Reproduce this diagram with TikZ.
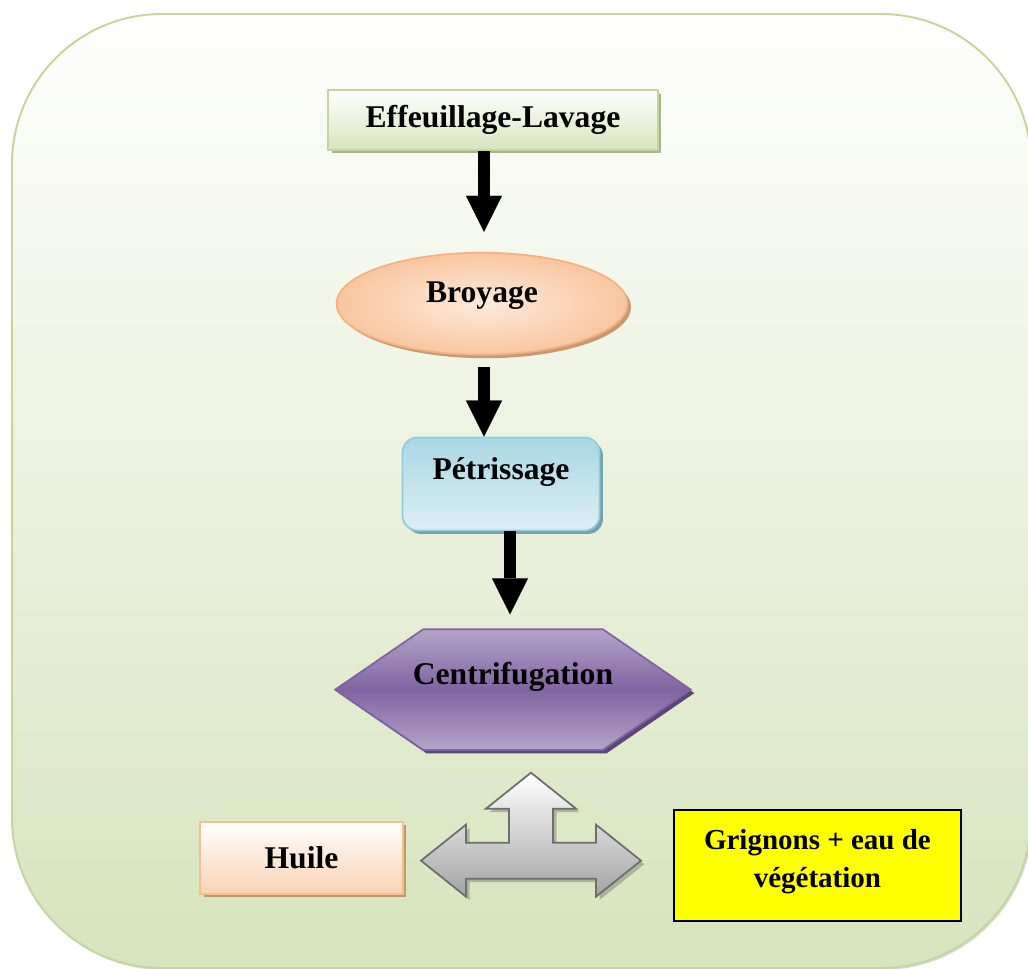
\documentclass[tikz,border=0pt]{standalone}
\usepackage{fontspec}
\setmainfont{Liberation Serif}
\usetikzlibrary{arrows.meta,positioning,calc,shapes.geometric,shadows}
\definecolor{frameline}{HTML}{C3D69B}
\definecolor{frametop}{HTML}{FEFEFD}
\definecolor{framebottom}{HTML}{D7E4BD}
\definecolor{leaf}{HTML}{D7E4BD}
\definecolor{leafline}{HTML}{C3D69B}
\definecolor{leafshadow}{HTML}{A7B48E}
\definecolor{peach}{HTML}{F9C6A0}
\definecolor{peachlight}{HTML}{FDEADC}
\definecolor{peachline}{HTML}{F4B183}
\definecolor{peachshadow}{HTML}{C99A72}
\definecolor{sky}{HTML}{A9D7E4}
\definecolor{skylight}{HTML}{DDEFF4}
\definecolor{skyline}{HTML}{93CDDD}
\definecolor{skyshadow}{HTML}{74A2AE}
\definecolor{violet}{HTML}{8064A2}
\definecolor{violetlight}{HTML}{B4A4C8}
\definecolor{violetshadow}{HTML}{5B4677}
\definecolor{oil}{HTML}{FAD3B3}
\definecolor{oilline}{HTML}{F5C08E}
\definecolor{oilshadow}{HTML}{BF9A6A}
\definecolor{steel}{HTML}{A3A3A3}
\definecolor{steelline}{HTML}{6E6E6E}
\definecolor{lemon}{HTML}{FFFF00}
\tikzset{
  hardshadow/.style={drop shadow={shadow xshift=.07cm,shadow yshift=-.07cm,fill=#1,opacity=1}},
  label18/.style={font=\fontsize{18}{22}\selectfont\bfseries,text=black,align=center},
  lift/.style={text height=0.5cm,text depth=#1},
  panel/.style={draw=frameline,line width=1.1pt,top color=frametop,bottom color=framebottom,rounded corners=3cm},
  leafbox/.style={label18,draw=leafline,line width=1pt,top color=white,bottom color=leaf,minimum width=6.6cm,minimum height=1.2cm,hardshadow=leafshadow},
  grindnode/.style={label18,ellipse,draw=peachline,line width=1pt,shading=radial,inner color=peachlight,outer color=peach,minimum width=5.82cm,minimum height=2.04cm,hardshadow=peachshadow},
  kneadbox/.style={label18,draw=skyline,line width=1pt,top color=sky,bottom color=skylight,rounded corners=0.3cm,minimum width=3.94cm,minimum height=1.86cm,hardshadow=skyshadow},
  spinframe/.style={minimum width=7.1cm,minimum height=2.4cm,inner sep=0pt},
  hexface/.style={draw=violet,line width=1pt,top color=violetlight,bottom color=violetlight,middle color=violet,hardshadow=violetshadow},
  oilbox/.style={label18,draw=oilline,line width=1.2pt,top color=white,bottom color=oil,minimum width=4.06cm,minimum height=1.44cm,hardshadow=oilshadow},
  wastebox/.style={font=\fontsize{16.5}{21.5}\selectfont\bfseries,align=center,draw=black,line width=1.1pt,fill=lemon,minimum width=5.74cm,minimum height=2.22cm,text height=1.2cm,text depth=0.3cm},
  flow/.style={-{Triangle[width=0.72cm,length=0.72cm,line width=0.1pt]},line width=0.24cm,draw=black},
  splitarrow/.style={draw=steelline,line width=1pt,top color=white,bottom color=steel,drop shadow={shadow xshift=.07cm,shadow yshift=-.07cm,fill=black,opacity=.22}}
}
\begin{document}
\begin{tikzpicture}[x=0.02cm,y=-0.02cm]
    \useasboundingbox (0,0) rectangle (1028,969);
    \draw[panel,drop shadow={shadow xshift=.03cm,shadow yshift=-.04cm,fill=black,opacity=.15}] (12,14) rectangle (1031,968);

    \node[leafbox] (effeu) at (493,120) {Effeuillage-Lavage};
    \node[grindnode,lift=0.56cm,below=2.02cm of effeu,xshift=-0.22cm] (broyage) {Broyage};
    \node[kneadbox,lift=0.68cm,below=1.62cm of broyage,xshift=0.38cm] (petri) {Pétrissage};

    % hexagon: frame node, outline, then its text
    \node[spinframe,below=1.96cm of petri,xshift=0.24cm] (centri) {};
    \path[hexface] (centri.west) -- ([xshift=1.76cm]centri.north west) -- ([xshift=-1.76cm]centri.north east)
      -- (centri.east) -- ([xshift=-1.76cm]centri.south east) -- ([xshift=1.76cm]centri.south west) -- cycle;
    \node[label18,lift=0.72cm] (centritext) at (centri) {Centrifugation};

    \draw[flow,shorten >=0.4cm] ([xshift=-0.18cm]effeu.south) -- ([xshift=-0.18cm]effeu.south |- broyage.north);
    \draw[flow,shorten <=0.22cm] ([xshift=0.04cm]broyage.south) -- ([xshift=0.04cm]broyage.south |- petri.north);
    \draw[flow,shorten >=0.3cm] ([xshift=0.18cm]petri.south) -- ([xshift=0.18cm]petri.south |- centri.north);

    % three-way split below the centrifuge
    \coordinate (split) at ($(centri)+(18,171)$);
    \begin{scope}[shift={(split)}]
      \draw[splitarrow] (0,-88) -- (45,-52) -- (22,-52) -- (22,-18) -- (65,-18) -- (65,-36)
        -- (110,0) -- (65,36) -- (65,18) -- (-65,18) -- (-65,36) -- (-110,0) -- (-65,-36)
        -- (-65,-18) -- (-22,-18) -- (-22,-52) -- (-45,-52) -- cycle;
    \end{scope}

    \node[oilbox,left=2.54cm of split,yshift=0.06cm] (huile) {Huile};
    \node[wastebox,right=2.84cm of split,yshift=-0.09cm] (grignons) {Grignons + eau de\\végétation};
\end{tikzpicture}
\end{document}
